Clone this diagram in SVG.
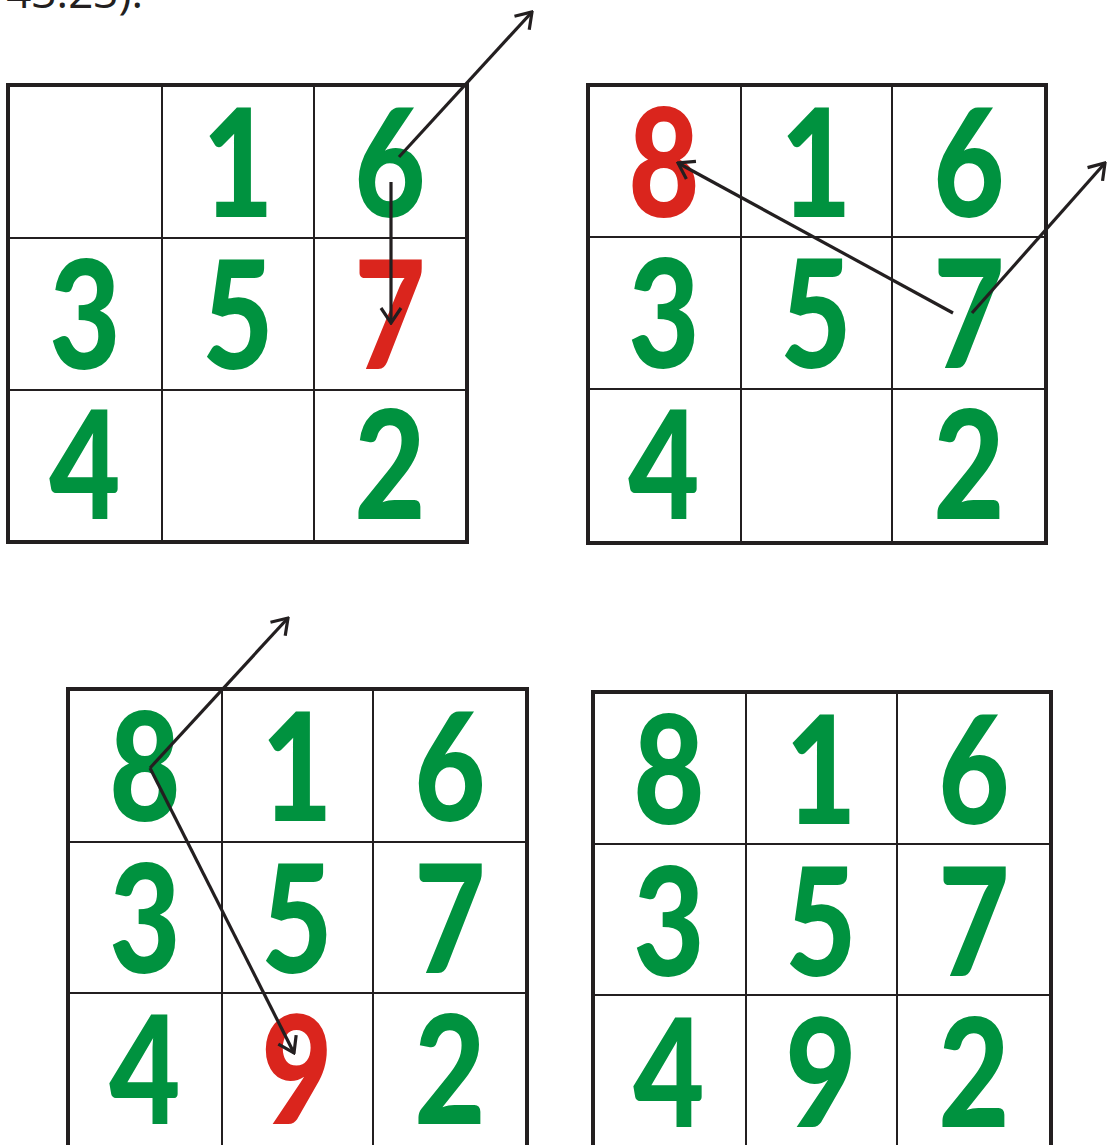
<svg xmlns="http://www.w3.org/2000/svg" width="1108" height="1145" viewBox="0 0 1108 1145">
<style>
.bg{fill:#fff}
.outer{fill:none;stroke:#231F20;stroke-width:4}
.inner{stroke:#231F20;stroke-width:2}
.d{font-family:Lato,"DejaVu Sans",sans-serif;font-weight:900;font-size:150px;text-anchor:middle}
.g{fill:#00923F}
.r{fill:#DA251D}
.arr{fill:none;stroke:#231F20;stroke-width:3.2;marker-end:url(#ah)}
.cap{font-family:"Open Sans","Noto Sans",sans-serif;font-size:44px;fill:#231F20;text-anchor:end}
</style>
<defs>
<marker id="ah" markerUnits="userSpaceOnUse" viewBox="-18 -12 20 24" refX="0" refY="0" markerWidth="20" markerHeight="24" orient="auto">
<path d="M-15,-10 L0,0 L-15,10" fill="none" stroke="#231F20" stroke-width="3.2"/>
</marker>
</defs>
<rect class="bg" width="1108" height="1145"/>
<text class="cap" x="143" y="8">43.23).</text>

<g id="grid1">
<rect class="outer" x="8" y="85" width="459" height="457"/>
<line class="inner" x1="162" y1="85" x2="162" y2="542"/>
<line class="inner" x1="314" y1="85" x2="314" y2="542"/>
<line class="inner" x1="8" y1="238" x2="467" y2="238"/>
<line class="inner" x1="8" y1="390" x2="467" y2="390"/>
<text class="d g" transform="translate(238,217) scale(0.82,1)">1</text>
<text class="d g" transform="translate(390,217) scale(0.82,1)">6</text>
<text class="d g" transform="translate(85,369) scale(0.82,1)">3</text>
<text class="d g" transform="translate(238,369) scale(0.82,1)">5</text>
<text class="d r" transform="translate(390,369) scale(0.82,1)">7</text>
<text class="d g" transform="translate(85,519) scale(0.82,1)">4</text>
<text class="d g" transform="translate(390,519) scale(0.82,1)">2</text>
</g>

<g id="grid2">
<rect class="outer" x="588" y="85" width="458" height="458"/>
<line class="inner" x1="741" y1="85" x2="741" y2="543"/>
<line class="inner" x1="892" y1="85" x2="892" y2="543"/>
<line class="inner" x1="588" y1="237" x2="1046" y2="237"/>
<line class="inner" x1="588" y1="389" x2="1046" y2="389"/>
<text class="d r" transform="translate(664,217) scale(0.82,1)">8</text>
<text class="d g" transform="translate(816,217) scale(0.82,1)">1</text>
<text class="d g" transform="translate(969,217) scale(0.82,1)">6</text>
<text class="d g" transform="translate(664,368) scale(0.82,1)">3</text>
<text class="d g" transform="translate(816,368) scale(0.82,1)">5</text>
<text class="d g" transform="translate(969,368) scale(0.82,1)">7</text>
<text class="d g" transform="translate(664,519) scale(0.82,1)">4</text>
<text class="d g" transform="translate(969,519) scale(0.82,1)">2</text>
</g>

<g id="grid3">
<rect class="outer" x="68" y="689" width="459" height="460"/>
<line class="inner" x1="222" y1="689" x2="222" y2="1149"/>
<line class="inner" x1="373" y1="689" x2="373" y2="1149"/>
<line class="inner" x1="68" y1="842" x2="527" y2="842"/>
<line class="inner" x1="68" y1="993" x2="527" y2="993"/>
<text class="d g" transform="translate(145,821) scale(0.82,1)">8</text>
<text class="d g" transform="translate(297,821) scale(0.82,1)">1</text>
<text class="d g" transform="translate(450,821) scale(0.82,1)">6</text>
<text class="d g" transform="translate(145,973) scale(0.82,1)">3</text>
<text class="d g" transform="translate(297,973) scale(0.82,1)">5</text>
<text class="d g" transform="translate(450,973) scale(0.82,1)">7</text>
<text class="d g" transform="translate(145,1124) scale(0.82,1)">4</text>
<text class="d r" transform="translate(297,1124) scale(0.82,1)">9</text>
<text class="d g" transform="translate(450,1124) scale(0.82,1)">2</text>
</g>

<g id="grid4">
<rect class="outer" x="593" y="692" width="458" height="460"/>
<line class="inner" x1="746" y1="692" x2="746" y2="1152"/>
<line class="inner" x1="897" y1="692" x2="897" y2="1152"/>
<line class="inner" x1="593" y1="844" x2="1051" y2="844"/>
<line class="inner" x1="593" y1="995" x2="1051" y2="995"/>
<text class="d g" transform="translate(669,824) scale(0.82,1)">8</text>
<text class="d g" transform="translate(821,824) scale(0.82,1)">1</text>
<text class="d g" transform="translate(974,824) scale(0.82,1)">6</text>
<text class="d g" transform="translate(669,976) scale(0.82,1)">3</text>
<text class="d g" transform="translate(821,976) scale(0.82,1)">5</text>
<text class="d g" transform="translate(974,976) scale(0.82,1)">7</text>
<text class="d g" transform="translate(669,1127) scale(0.82,1)">4</text>
<text class="d g" transform="translate(821,1127) scale(0.82,1)">9</text>
<text class="d g" transform="translate(974,1127) scale(0.82,1)">2</text>
</g>

<g id="connectors">
<line class="arr" x1="399" y1="157" x2="532" y2="12"/>
<line class="arr" x1="391" y1="182" x2="391" y2="323"/>
<line class="arr" x1="953" y1="313" x2="678" y2="163"/>
<line class="arr" x1="972" y1="313" x2="1105" y2="163"/>
<line class="arr" x1="150" y1="768" x2="288" y2="618"/>
<line class="arr" x1="150" y1="768" x2="294" y2="1053"/>
</g>
</svg>
